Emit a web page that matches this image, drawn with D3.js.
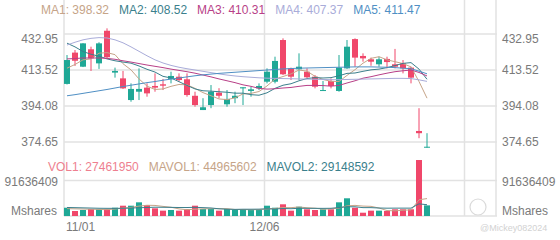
<!DOCTYPE html>
<html>
<head>
<meta charset="utf-8">
<script src="https://cdn.jsdelivr.net/npm/d3@7/dist/d3.min.js"></script>
<style>
body { margin:0; background:#fff; }
text { font-family: "Liberation Sans", Arial, sans-serif; }
</style>
</head>
<body>
<div class="svg-canvas"></div>
<script>
// Chart data
var dates = ["11/01","11/04","11/05","11/06","11/07","11/08","11/11","11/12","11/13","11/14",
             "11/15","11/18","11/19","11/20","11/21","11/22","11/25","11/26","11/27","11/28",
             "11/29","12/02","12/03","12/04","12/05","12/06","12/09","12/10","12/11","12/12",
             "12/13","12/16","12/17","12/18","12/19","12/20","12/23","12/24","12/26","12/27",
             "12/30","12/31","01/02","01/03","01/06","01/07"];
var labelDates = ["11/01", "12/06"];

var opens  = [406.0,422.9,415.3,424.7,417.1,434.7,412.1,409.0,397.3,401.8,
              404.0,404.9,405.8,408.7,409.9,408.5,399.6,391.9,394.6,401.3,
              395.0,398.3,403.6,402.2,403.6,407.2,407.2,429.7,414.4,413.9,
              412.6,409.9,402.2,407.6,402.2,414.4,430.2,421.1,419.3,416.6,
              419.5,416.6,417.1,414.8,380.6,371.6];
var highs  = [421.6,424.3,428.0,426.1,428.5,436.0,414.8,413.0,406.3,414.4,
              406.3,411.7,408.7,412.6,411.7,411.7,401.8,398.3,405.4,403.7,
              402.7,401.8,404.2,404.5,406.3,414.4,420.7,430.6,414.8,422.5,
              414.4,410.8,407.6,409.0,421.6,429.7,430.6,422.5,420.2,420.7,
              420.7,424.9,418.9,415.3,392.9,379.4];
var lows   = [405.7,415.7,415.1,413.0,414.1,419.8,409.4,403.3,396.4,397.3,
              399.1,401.8,402.7,406.3,407.2,399.1,393.7,391.9,392.9,398.3,
              393.7,395.6,394.6,399.1,402.7,406.3,406.3,410.8,408.1,408.1,
              409.0,403.6,402.2,403.6,401.8,414.1,415.3,418.0,415.8,415.3,
              414.4,414.4,411.7,406.3,376.7,371.6];
var closes = [418.9,418.5,427.9,419.8,427.9,420.4,413.0,403.6,403.3,403.3,
              400.9,404.0,405.05,410.3,408.1,400.0,394.6,393.4,401.8,399.6,
              397.9,399.6,404.2,403.1,404.9,412.6,418.4,411.2,409.9,415.3,
              409.6,404.5,402.7,404.9,414.8,426.1,420.2,419.8,418.0,419.3,
              417.8,415.3,414.4,409.4,379.4,372.1];

// volume, millions of shares
var volumes = [21.4,12.9,15.5,18.0,17.3,18.0,21.4,26.6,26.6,35.3,
               28.4,19.8,13.8,15.5,13.8,18.0,26.6,18.0,18.0,13.8,
               18.0,15.5,18.0,15.5,15.5,26.6,21.4,30.2,13.8,24.0,
               17.3,15.5,17.3,17.3,35.3,45.7,21.4,8.5,13.8,13.8,
               12.9,17.3,17.3,17.3,144.5,27.46];

var ma1 = [414.5,416.5,419.0,419.5,422.6,422.9,421.8,416.9,413.6,408.7,
           404.8,403.0,403.3,404.7,405.7,405.5,403.6,401.3,399.6,397.9,
           397.5,398.5,400.6,400.9,401.9,404.9,408.6,410.0,411.4,413.5,
           412.9,410.1,408.4,407.4,407.3,410.6,413.7,417.2,419.8,420.7,
           419.0,418.0,417.0,415.2,407.3,398.32];
var ma2 = [428.0,426.0,423.5,422.0,421.0,419.5,418.5,417.8,417.2,415.7,
           413.9,412.4,410.1,409.2,407.2,405.2,403.3,402.3,402.1,401.8,
           401.5,401.0,401.0,400.2,399.9,401.2,403.6,405.3,406.1,407.7,
           408.9,409.4,409.2,409.4,410.4,411.7,411.9,412.8,413.6,414.0,
           414.8,415.9,417.1,417.5,414.0,408.52];
var ma3 = [419.5,419.7,420.0,420.0,420.0,419.8,419.3,418.5,417.8,417.0,
           416.2,415.5,414.8,414.0,413.3,412.6,411.8,410.8,409.8,408.7,
           407.7,406.7,405.5,404.7,403.6,403.2,403.4,403.8,404.1,404.7,
           405.2,405.2,405.1,404.8,405.2,406.5,407.7,409.1,409.9,410.9,
           411.8,412.6,413.1,413.5,412.2,410.31];
var ma4 = [427.0,428.5,429.8,430.6,431.0,430.8,429.8,428.2,426.0,423.6,
           421.2,419.0,417.3,416.0,415.0,414.2,413.5,412.8,412.1,411.4,
           410.8,410.3,409.9,409.6,409.3,409.1,409.0,408.9,408.8,408.7,
           408.6,408.5,408.4,408.3,408.3,408.4,408.5,408.6,408.7,408.8,
           408.9,409.0,409.0,408.9,408.2,407.37];
var ma5 = [399.6,400.2,400.9,401.6,402.3,403.0,403.8,404.6,405.3,406.0,
           406.7,407.3,408.0,408.6,409.2,409.8,410.4,410.9,411.3,411.7,
           412.0,412.3,412.6,412.9,413.2,413.5,413.8,414.1,414.3,414.5,
           414.6,414.7,414.8,414.9,415.0,415.1,415.2,415.2,415.2,415.1,
           415.0,414.8,414.5,414.2,412.9,411.47];

var mavol1 = [19.0,18.5,18.0,17.5,17.0,16.3,18.0,20.3,22.0,25.6,
              27.7,27.3,24.8,22.6,18.3,16.2,17.5,18.4,18.9,18.9,
              18.9,16.7,16.7,16.2,16.5,18.2,19.4,21.8,21.5,23.2,
              21.3,20.2,17.6,18.3,20.5,26.2,27.4,25.6,24.9,20.6,
              14.1,13.3,15.0,15.7,41.9,44.97];
var mavol2 = [22.0,21.5,21.0,20.5,20.0,19.8,19.8,20.0,20.5,21.3,
              22.0,22.7,22.5,22.3,21.9,21.9,22.4,21.6,20.7,18.6,
              17.5,17.1,17.5,17.5,17.7,18.6,18.0,19.3,18.8,19.9,
              19.8,19.8,19.7,19.9,21.9,23.8,23.8,21.6,21.6,20.6,
              20.2,20.3,20.3,20.3,31.3,29.15];

var priceTicks = [432.95, 413.52, 394.08, 374.65];
var volTicks = ["91636409", "Mshares"];

var maNames = ["MA1", "MA2", "MA3", "MA4", "MA5"];
var maColors = ["#c6a488", "#3b7f8c", "#b83f87", "#a9acd9", "#4f8fc4"];
var upColor = "#1fa896", downColor = "#f0476a";

// canvas
var kc = {};
kc.width = 560;
kc.height = 240;
kc.left = 63;
kc.right = 495;
kc.slots = 54;

var svg = d3.select("body").select(".svg-canvas").append("svg")
    .attr("width", kc.width)
    .attr("height", kc.height);

var x = d3.scaleBand()
    .domain(d3.range(kc.slots))
    .range([kc.left, kc.right]);
var cx = function(i){ return x(i) + x.bandwidth() / 2; };

var yP = d3.scaleLinear().domain([374.65, 432.95]).range([142, 34]);
var yV = d3.scaleLinear().domain([0, 91.636409]).range([216, 180.5]);

var grid = svg.append("g").attr("stroke", "#e2e2e2").attr("stroke-width", 1.5);

// horizontal grid
grid.selectAll(".hp").data(priceTicks).enter().append("line")
    .attr("x1", kc.left + 1).attr("x2", kc.right + 2)
    .attr("y1", function(d){ return yP(d); })
    .attr("y2", function(d){ return yP(d); });
grid.append("line").attr("x1", kc.left + 1).attr("x2", kc.right + 2)
    .attr("y1", yV(91.636409)).attr("y2", yV(91.636409));
grid.append("line").attr("x1", kc.left + 1).attr("x2", kc.right + 2)
    .attr("y1", yV(0)).attr("y2", yV(0));

// vertical grid: panel edges + date lines
var dateIdx = [dates.indexOf("12/06"), 50];
grid.selectAll(".vl").data([kc.left + 1, kc.right + 1].concat(dateIdx.map(function(i){ return x(i) + 1.5; })))
    .enter().append("line")
    .attr("x1", function(d){ return d; }).attr("x2", function(d){ return d; })
    .attr("y1", 0).attr("y2", yV(0));

// candles
var candles = svg.append("g").selectAll("g").data(closes).enter().append("g");
candles.append("line")
    .attr("x1", function(d, i){ return cx(i); })
    .attr("x2", function(d, i){ return cx(i); })
    .attr("y1", function(d, i){ return yP(highs[i]); })
    .attr("y2", function(d, i){ return yP(lows[i]); })
    .attr("stroke", function(d, i){ return d >= opens[i] ? upColor : downColor; })
    .attr("stroke-width", 1);
candles.append("rect")
    .attr("x", function(d, i){ return cx(i) - 3; })
    .attr("width", 6)
    .attr("y", function(d, i){ return yP(Math.max(d, opens[i])); })
    .attr("height", function(d, i){ return Math.max(1, Math.abs(yP(d) - yP(opens[i]))); })
    .attr("fill", function(d, i){ return d >= opens[i] ? upColor : downColor; });

// moving averages
var line = d3.line()
    .x(function(d, i){ return cx(i); })
    .y(function(d){ return yP(d); });
[ma1, ma2, ma3, ma4, ma5].forEach(function(s, k){
    svg.append("path").attr("d", line(s))
        .attr("fill", "none").attr("stroke", maColors[k]).attr("stroke-width", 1);
});

// volume bars
svg.append("g").selectAll("rect").data(volumes).enter().append("rect")
    .attr("x", function(d, i){ return cx(i) - 3; })
    .attr("width", 6)
    .attr("y", function(d){ return yV(d); })
    .attr("height", function(d){ return yV(0) - yV(d); })
    .attr("fill", function(d, i){ return closes[i] >= opens[i] ? upColor : downColor; });

var vline = d3.line()
    .x(function(d, i){ return cx(i); })
    .y(function(d){ return yV(d); });
svg.append("path").attr("d", vline(mavol1)).attr("fill", "none").attr("stroke", "#c6a488").attr("stroke-width", 1);
svg.append("path").attr("d", vline(mavol2)).attr("fill", "none").attr("stroke", "#3b7f8c").attr("stroke-width", 1);

// axis labels
var axisText = svg.append("g").attr("fill", "#7a7a7a").attr("font-size", "12px");
[[58, "end"], [502, "start"]].forEach(function(side){
    axisText.selectAll(null).data(priceTicks).enter().append("text")
        .attr("x", side[0]).attr("text-anchor", side[1])
        .attr("y", function(d){ return Math.max(yP(d), 38.5); })
        .attr("dy", "0.35em")
        .text(function(d){ return d.toFixed(2); });
    axisText.append("text").attr("x", side[0]).attr("text-anchor", side[1])
        .attr("y", yV(91.636409) + 1.5).attr("dy", "0.35em").text(volTicks[0]);
    axisText.append("text").attr("x", side[0] - (side[1] == "end" ? 1 : 0)).attr("text-anchor", side[1])
        .attr("y", 211).attr("dy", "0.35em").text(volTicks[1]);
});
axisText.append("text").attr("x", cx(0) - 1).attr("y", 227).attr("dy", "0.35em")
    .text(labelDates[0]);
axisText.append("text").attr("x", x(dateIdx[0]) + 1.5).attr("y", 227).attr("dy", "0.35em")
    .attr("text-anchor", "middle").text(labelDates[1]);

// legends
var last = closes.length - 1;
var maVals = [ma1[last], ma2[last], ma3[last], ma4[last], ma5[last]];
var lx = 41;
maNames.forEach(function(n, k){
    var t = svg.append("text").attr("x", lx).attr("y", 10).attr("dy", "0.35em")
        .attr("font-size", "12px").attr("fill", maColors[k])
        .text(n + ": " + maVals[k].toFixed(2));
    lx += t.node().getComputedTextLength() + 10;
});
var volLegend = [["VOL1", "27461950", "#ee7f8f"], ["MAVOL1", "44965602", "#c6a488"], ["MAVOL2", "29148592", "#3b7f8c"]];
lx = 48;
volLegend.forEach(function(v){
    var t = svg.append("text").attr("x", lx).attr("y", 167).attr("dy", "0.35em")
        .attr("font-size", "12px").attr("fill", v[2])
        .text(v[0] + ": " + v[1]);
    lx += t.node().getComputedTextLength() + 10;
});

// watermark
svg.append("circle").attr("cx", 478).attr("cy", 207).attr("r", 8)
    .attr("fill", "none").attr("stroke", "#dadada").attr("stroke-width", 1.2);
svg.append("text").attr("x", 480).attr("y", 228).attr("dy", "0.35em")
    .attr("font-size", "9px").attr("fill", "#d2d2d2").text("@Mickey082024");
</script>
</body>
</html>
